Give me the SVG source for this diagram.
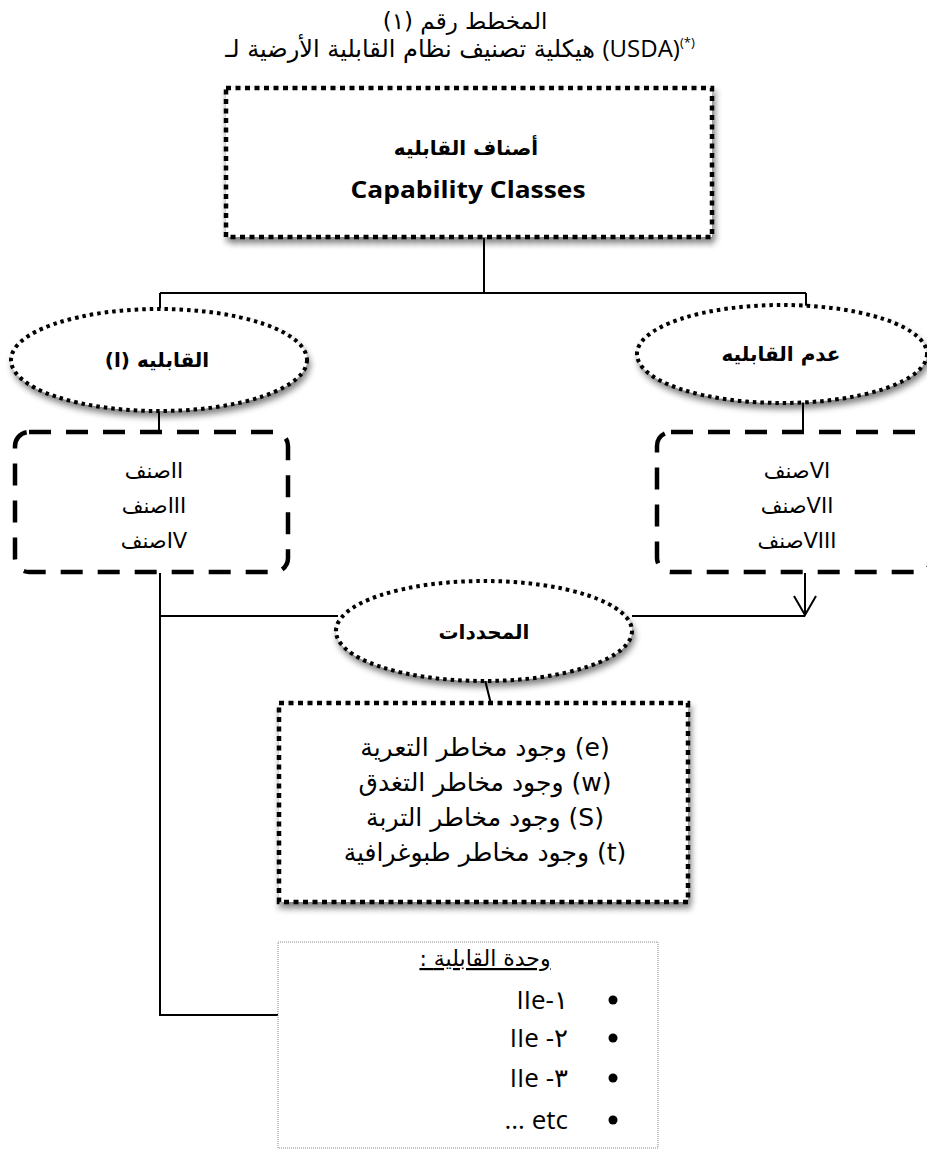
<svg xmlns="http://www.w3.org/2000/svg" width="927" height="1153" viewBox="0 0 927 1153">
<style>
.ar{font-family:"DejaVu Sans","Noto Sans",sans-serif;fill:#000}
.lat{font-family:"Open Sans","Liberation Sans",sans-serif;fill:#000}
.b{font-weight:bold}
.dot{fill:#fff;stroke:#000;stroke-width:4.5;stroke-dasharray:5 4.5}
.edot{fill:#fff;stroke:#000;stroke-width:4;stroke-dasharray:3.5 4}
.dash{fill:none;stroke:#000;stroke-width:4.5;stroke-dasharray:22 15}
.fine{fill:#fff;stroke:#888;stroke-width:1;stroke-dasharray:1 1}
.ln{fill:none;stroke:#000;stroke-width:2}
</style>
<defs>
<filter id="sh" x="-10%" y="-20%" width="125%" height="150%">
<feGaussianBlur in="SourceAlpha" stdDeviation="3"/>
<feOffset dx="2" dy="5" result="o"/>
<feComponentTransfer><feFuncA type="linear" slope="0.5"/></feComponentTransfer>
<feMerge><feMergeNode/><feMergeNode in="SourceGraphic"/></feMerge>
</filter>
</defs>
<rect width="927" height="1153" fill="#fff"/>

<g id="title">
<text class="ar" x="465" y="29" font-size="23" text-anchor="middle" direction="rtl">المخطط رقم (١)</text>
<text class="ar" x="460" y="57" font-size="24" text-anchor="middle" direction="ltr">هيكلية تصنيف نظام القابلية الأرضية لـ <tspan class="lat">(USDA)</tspan><tspan class="lat" font-size="13" dy="-10">(*)</tspan></text>
</g>

<g id="connectors">
<path class="ln" d="M484 238V293M160 293H806M160 293V308M806 293V306"/>
<path class="ln" d="M159 412V433M803 402V433"/>
<path class="ln" d="M160 573V1015H279M160 616H338"/>
<path class="ln" d="M805 573V615M632 616H805"/>
<path class="ln" d="M794 596L805 615L816 596"/>
<path class="ln" d="M485 680L491 704" stroke-width="1.5"/>
</g>

<g id="node-classes">
<rect class="dot" x="226" y="88" width="486" height="149" filter="url(#sh)"/>
<text class="ar b" x="466" y="155" font-size="20" text-anchor="middle" direction="rtl">أصناف القابليه</text>
<text class="lat b" x="468" y="198" font-size="24" text-anchor="middle" textLength="235" lengthAdjust="spacingAndGlyphs">Capability Classes</text>
</g>

<g id="node-capable">
<ellipse class="edot" cx="159" cy="360" rx="148" ry="51" filter="url(#sh)"/>
<text class="ar b" x="157" y="367" font-size="20" text-anchor="middle" direction="rtl">القابليه (ا)</text>
</g>

<g id="node-notcapable">
<ellipse class="edot" cx="782" cy="354" rx="145" ry="49" filter="url(#sh)"/>
<text class="ar b" x="781" y="361" font-size="20" text-anchor="middle" direction="rtl">عدم القابليه</text>
</g>

<g id="node-left-classes">
<rect class="dash" x="15" y="432" width="273" height="140" rx="14"/>
<text class="ar" x="154" y="478" font-size="21" text-anchor="middle" direction="ltr">صنفII</text>
<text class="ar" x="154" y="513" font-size="21" text-anchor="middle" direction="ltr">صنفIII</text>
<text class="ar" x="154" y="548" font-size="21" text-anchor="middle" direction="ltr">صنفIV</text>
</g>

<g id="node-right-classes">
<rect class="dash" x="657" y="432" width="275" height="140" rx="14"/>
<text class="ar" x="797" y="478" font-size="21" text-anchor="middle" direction="ltr">صنفVI</text>
<text class="ar" x="797" y="513" font-size="21" text-anchor="middle" direction="ltr">صنفVII</text>
<text class="ar" x="797" y="548" font-size="21" text-anchor="middle" direction="ltr">صنفVIII</text>
</g>

<g id="node-limitations">
<ellipse class="edot" cx="484" cy="631" rx="148" ry="50" filter="url(#sh)"/>
<text class="ar b" x="484" y="639" font-size="20" text-anchor="middle" direction="rtl">المحددات</text>
</g>

<g id="node-limits-list">
<rect class="dot" x="279" y="703" width="409" height="199" filter="url(#sh)"/>
<text class="ar" x="485" y="756" font-size="25" text-anchor="middle" direction="rtl">(e) وجود مخاطر التعرية</text>
<text class="ar" x="485" y="791" font-size="25" text-anchor="middle" direction="rtl">(w) وجود مخاطر التغدق</text>
<text class="ar" x="485" y="826" font-size="25" text-anchor="middle" direction="rtl">(S) وجود مخاطر التربة</text>
<text class="ar" x="485" y="861" font-size="25" text-anchor="middle" direction="rtl">(t) وجود مخاطر طبوغرافية</text>
</g>

<g id="node-unit">
<rect class="fine" x="278" y="942" width="380" height="206"/>
<text class="ar" x="485" y="966" font-size="22" text-anchor="middle" text-decoration="underline" direction="ltr">: وحدة القابلية</text>
<circle cx="613" cy="1000" r="4.5"/>
<circle cx="613" cy="1038" r="4.5"/>
<circle cx="613" cy="1078" r="4.5"/>
<circle cx="613" cy="1120" r="4.5"/>
<text class="lat" x="568" y="1009" font-size="26" text-anchor="end">IIe-١</text>
<text class="lat" x="568" y="1047" font-size="26" text-anchor="end">IIe -٢</text>
<text class="lat" x="568" y="1087" font-size="26" text-anchor="end">IIe -٣</text>
<text class="lat" x="568" y="1129" font-size="26" text-anchor="end">... etc</text>
</g>
</svg>
